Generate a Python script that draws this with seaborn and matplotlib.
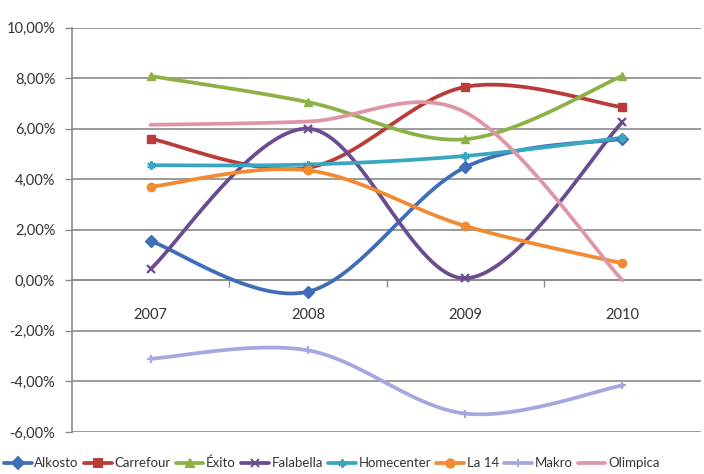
import numpy as np
import pandas as pd
import matplotlib
matplotlib.use("Agg")
import matplotlib.pyplot as plt
from matplotlib.lines import Line2D
from matplotlib.ticker import FuncFormatter, FixedLocator
import seaborn as sns

years = ["2007", "2008", "2009", "2010"]
companies = ["Alkosto", "Carrefour", "Éxito", "Falabella", "Homecenter", "La 14", "Makro", "Olimpica"]
alkosto = [1.55, -0.45, 4.47, 5.6]
carrefour = [5.6, 4.45, 7.65, 6.85]
exito = [8.08, 7.05, 5.58, 8.08]
falabella = [0.45, 6.0, 0.08, 6.25]
homecenter = [4.55, 4.58, 4.92, 5.64]
la14 = [3.7, 4.35, 2.15, 0.67]
makro = [-3.1, -2.77, -5.27, -4.16]
olimpica = [6.15, 6.28, 6.65, 0.0]
series = [alkosto, carrefour, exito, falabella, homecenter, la14, makro, olimpica]

colors = ["#3F6DB8", "#BA3C3A", "#8DB145", "#6A4D90", "#3AA7C0", "#F28A32", "#A5A8DE", "#DE95A6"]
markers = ["D", "s", "^", "x", (6, 2, 0), "o", "+", None]

sns.set_theme(style="white")
plt.rcParams["font.family"] = ["Lato", "DejaVu Sans"]

fig = plt.figure(figsize=(7.04, 4.74), dpi=100)
fig.patch.set_facecolor("white")
ax = fig.add_axes([72 / 704, 1 - 432 / 474, 629 / 704, (432 - 27.5) / 474])

xpos = np.arange(len(years)) + 0.5


def smooth(x, y, n=40):
    # Excel-style smoothed line (Catmull-Rom Bezier)
    x = np.asarray(x, float)
    y = np.asarray(y, float)
    P = np.column_stack([x, y])
    Pe = np.vstack([P[0], P, P[-1]])
    out = []
    t = np.linspace(0, 1, n)
    for i in range(len(P) - 1):
        p0, p1, p2, p3 = Pe[i], Pe[i + 1], Pe[i + 2], Pe[i + 3]
        c1 = p1 + (p2 - p0) / 6
        c2 = p2 - (p3 - p1) / 6
        seg = ((1 - t) ** 3)[:, None] * p1 + (3 * (1 - t) ** 2 * t)[:, None] * c1 \
            + (3 * (1 - t) * t ** 2)[:, None] * c2 + (t ** 3)[:, None] * p2
        out.append(seg if i == 0 else seg[1:])
    s = np.vstack(out)
    return s[:, 0], s[:, 1]


handles = []
for name, vals, col, mk in zip(companies, series, colors, markers):
    sx, sy = smooth(xpos, vals)
    df = pd.DataFrame({"x": sx, "y": sy})
    sns.lineplot(data=df, x="x", y="y", sort=False, ax=ax, color=col, linewidth=2.7,
                 estimator=None, legend=False, zorder=3)
    if mk is not None:
        mew = 1.6 if mk in ("x", "+", (6, 2, 0)) else 1.0
        ax.plot(xpos, vals, linestyle="none", marker=mk, color=col, markersize=6,
                markeredgewidth=mew, zorder=4)
    handles.append(Line2D([0], [0], color=col, linewidth=2.7, marker=mk,
                          markersize=6, markeredgewidth=1.4))

ax.set_xlim(0, 4)
ax.set_ylim(-6, 10)
ax.set_xlabel("")
ax.set_ylabel("")

ax.yaxis.set_major_locator(FixedLocator(np.arange(-6, 11, 2)))
ax.yaxis.set_major_formatter(FuncFormatter(lambda v, p: f"{v:.2f}%".replace(".", ",")))
ax.grid(axis="y", color="#8a8a8a", linewidth=1.2, zorder=0)
ax.set_axisbelow(True)

ax.set_xticks(xpos)
ax.set_xticklabels(years)
ax.set_xticks([1, 2, 3], minor=True)
ax.tick_params(axis="x", which="major", length=0, pad=20, labelsize=10.5, colors="#333333")
ax.tick_params(axis="x", which="minor", length=5, width=1, color="#8a8a8a", direction="out", bottom=True)
ax.tick_params(axis="y", which="major", length=5, width=1, color="#8a8a8a", direction="out",
               left=True, pad=7, labelsize=10.5, labelcolor="#333333")

for s in ["top", "right"]:
    ax.spines[s].set_visible(False)
ax.spines["bottom"].set_position(("data", 0))
ax.spines["bottom"].set_color("#8a8a8a")
ax.spines["bottom"].set_linewidth(1.2)
ax.spines["left"].set_color("#8a8a8a")
ax.spines["left"].set_linewidth(1.2)

leg = fig.legend(handles, companies, loc="center left", bbox_to_anchor=(4 / 704, 1 - 463 / 474),
                 ncol=8, frameon=False, fontsize=9.5, handlelength=2.1, handletextpad=0.2,
                 columnspacing=0.4, borderaxespad=0, borderpad=0.0)
for t in leg.get_texts():
    t.set_color("#333333")

fig.savefig("out.png", dpi=100, facecolor="white")
